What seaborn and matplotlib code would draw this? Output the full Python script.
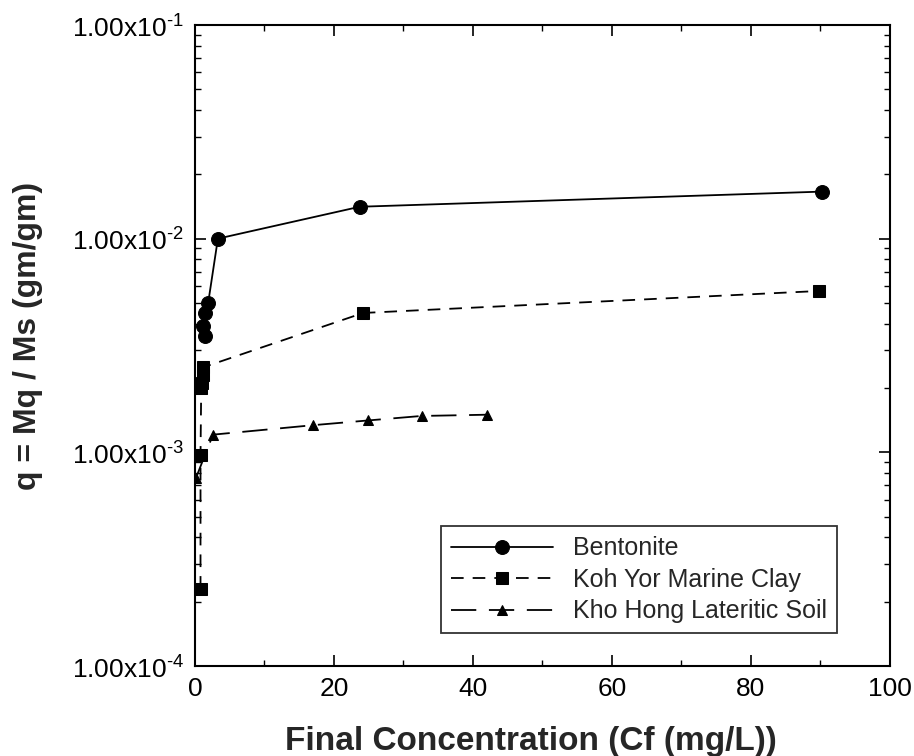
import math

import matplotlib
matplotlib.use("Agg")
import matplotlib.pyplot as plt
import matplotlib.ticker as mticker
import seaborn as sns
import pandas as pd

# values
bentonite_x = [1.1, 1.4, 1.4, 1.9, 3.3, 23.7, 90.2]
bentonite_y = [0.0039, 0.0035, 0.0045, 0.0050, 0.0100, 0.0141, 0.0166]

marine_x = [0.8, 0.8, 0.9, 1.0, 1.1, 1.2, 24.2, 89.8]
marine_y = [0.00023, 0.00097, 0.0020, 0.0021, 0.0023, 0.0025, 0.00449, 0.00569]

lateritic_x = [0.15, 2.6, 17.0, 24.9, 32.6, 42.0]
lateritic_y = [0.00076, 0.00121, 0.00134, 0.00141, 0.00148, 0.00150]

series_names = ["Bentonite", "Koh Yor Marine Clay", "Kho Hong Lateritic Soil"]

sns.set_theme(style="ticks")
plt.rcParams["font.family"] = ["Liberation Sans", "DejaVu Sans"]
plt.rcParams["mathtext.fontset"] = "custom"
plt.rcParams["mathtext.rm"] = "Liberation Sans"

fig = plt.figure(figsize=(9.14, 7.56), dpi=100)
ax = fig.add_axes([0.2133, 0.119, 0.7604, 0.848])

df_b = pd.DataFrame({"x": bentonite_x, "y": bentonite_y})
df_m = pd.DataFrame({"x": marine_x, "y": marine_y})
df_l = pd.DataFrame({"x": lateritic_x, "y": lateritic_y})

sns.lineplot(data=df_b, x="x", y="y", ax=ax, estimator=None, sort=False,
             color="black", linewidth=1.3, marker="o", markersize=10,
             markeredgecolor="black", label=series_names[0])
sns.lineplot(data=df_m, x="x", y="y", ax=ax, estimator=None, sort=False,
             color="black", linewidth=1.3, linestyle=(0, (7, 5)), marker="s",
             markersize=9, markeredgecolor="black", label=series_names[1])
sns.lineplot(data=df_l, x="x", y="y", ax=ax, estimator=None, sort=False,
             color="black", linewidth=1.3, linestyle=(0, (14, 7)), marker="^",
             markersize=7, markeredgecolor="black", label=series_names[2])

ax.set_yscale("log")
ax.set_xlim(0, 100)
ax.set_ylim(1e-4, 1e-1)
ax.set_xticks([0, 20, 40, 60, 80, 100])
ax.xaxis.set_minor_locator(mticker.MultipleLocator(10))
ax.yaxis.set_major_locator(mticker.LogLocator(base=10, numticks=10))
ax.yaxis.set_minor_locator(mticker.LogLocator(base=10, subs=range(2, 10), numticks=10))
ax.yaxis.set_minor_formatter(mticker.NullFormatter())


def sci_label(v, pos):
    exp = int(round(math.log10(v)))
    return "1.00x10$^{\\text{%d}}$" % exp


ax.yaxis.set_major_formatter(mticker.FuncFormatter(sci_label))

ax.tick_params(which="both", direction="in", top=True, right=True,
               labelsize=19, color="black", labelcolor="black")
ax.tick_params(which="major", length=8, width=1.2, pad=8)
ax.tick_params(which="minor", length=4, width=1.0)

for sp in ax.spines.values():
    sp.set_linewidth(1.5)
    sp.set_color("black")

ax.set_xlabel("Final Concentration (Cf (mg/L))", fontsize=24, fontweight="bold")
ax.set_ylabel("q = Mq / Ms (gm/gm)", fontsize=23, fontweight="bold")
ax.xaxis.set_label_coords(0.483, -0.093)
ax.yaxis.set_label_coords(-0.219, 0.515)

leg = ax.legend(loc="lower right", bbox_to_anchor=(0.924, 0.051), fontsize=18,
                handlelength=4.1, frameon=True, fancybox=False, borderaxespad=0,
                borderpad=0.4, labelspacing=0.3, handletextpad=0.8)
leg.get_frame().set_edgecolor("black")
leg.get_frame().set_linewidth(1.3)

fig.savefig("out.png", dpi=100)
